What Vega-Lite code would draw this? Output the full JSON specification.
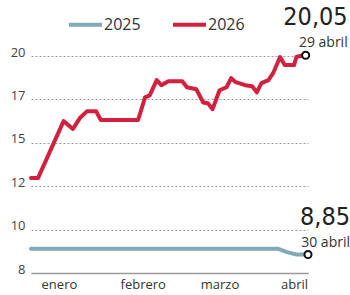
{
  "$schema": "https://vega.github.io/schema/vega-lite/v6.json",
  "autosize": "none",
  "width": 277,
  "height": 217,
  "padding": {"left": 31, "top": 56, "right": 42, "bottom": 22},
  "background": "white",
  "config": {"view": {"stroke": null}, "font": "Open Sans"},
  "datasets": {
    "s": [
      {"date": "2025/01/02", "serie": "2025", "value": 9.12},
      {"date": "2025/01/31", "serie": "2025", "value": 9.12},
      {"date": "2025/02/28", "serie": "2025", "value": 9.12},
      {"date": "2025/03/31", "serie": "2025", "value": 9.12},
      {"date": "2025/04/17", "serie": "2025", "value": 9.12},
      {"date": "2025/04/21", "serie": "2025", "value": 8.96},
      {"date": "2025/04/25", "serie": "2025", "value": 8.85},
      {"date": "2025/04/30", "serie": "2025", "value": 8.85},
      {"date": "2026/01/02", "serie": "2026", "value": 12.56},
      {"date": "2026/01/05", "serie": "2026", "value": 12.56},
      {"date": "2026/01/16", "serie": "2026", "value": 16.0},
      {"date": "2026/01/20", "serie": "2026", "value": 15.64},
      {"date": "2026/01/23", "serie": "2026", "value": 16.14},
      {"date": "2026/01/26", "serie": "2026", "value": 16.45},
      {"date": "2026/01/30", "serie": "2026", "value": 16.45},
      {"date": "2026/02/01", "serie": "2026", "value": 16.05},
      {"date": "2026/02/17", "serie": "2026", "value": 16.05},
      {"date": "2026/02/20", "serie": "2026", "value": 17.14},
      {"date": "2026/02/22", "serie": "2026", "value": 17.28},
      {"date": "2026/02/25", "serie": "2026", "value": 18.33},
      {"date": "2026/02/27", "serie": "2026", "value": 17.98},
      {"date": "2026/03/01", "serie": "2026", "value": 18.26},
      {"date": "2026/03/07", "serie": "2026", "value": 18.26},
      {"date": "2026/03/09", "serie": "2026", "value": 17.84},
      {"date": "2026/03/13", "serie": "2026", "value": 17.7},
      {"date": "2026/03/16", "serie": "2026", "value": 16.86},
      {"date": "2026/03/18", "serie": "2026", "value": 16.82},
      {"date": "2026/03/20", "serie": "2026", "value": 16.55},
      {"date": "2026/03/23", "serie": "2026", "value": 17.63},
      {"date": "2026/03/25", "serie": "2026", "value": 17.77},
      {"date": "2026/03/26", "serie": "2026", "value": 17.84},
      {"date": "2026/03/28", "serie": "2026", "value": 18.47},
      {"date": "2026/03/30", "serie": "2026", "value": 18.19},
      {"date": "2026/04/03", "serie": "2026", "value": 17.98},
      {"date": "2026/04/06", "serie": "2026", "value": 17.91},
      {"date": "2026/04/08", "serie": "2026", "value": 17.49},
      {"date": "2026/04/10", "serie": "2026", "value": 18.12},
      {"date": "2026/04/13", "serie": "2026", "value": 18.33},
      {"date": "2026/04/15", "serie": "2026", "value": 18.81},
      {"date": "2026/04/18", "serie": "2026", "value": 19.93},
      {"date": "2026/04/20", "serie": "2026", "value": 19.37},
      {"date": "2026/04/24", "serie": "2026", "value": 19.37},
      {"date": "2026/04/25", "serie": "2026", "value": 19.93},
      {"date": "2026/04/27", "serie": "2026", "value": 20.02},
      {"date": "2026/04/29", "serie": "2026", "value": 20.05}
    ],
    "ends": [
      {"date": "2026/04/29", "serie": "2026", "value": 20.05, "valueLabel": "20,05", "dateLabel": "29 abril"},
      {"date": "2025/04/30", "serie": "2025", "value": 8.85, "valueLabel": "8,85", "dateLabel": "30 abril"}
    ]
  },
  "encoding": {
    "x": {
      "field": "date",
      "type": "temporal",
      "timeUnit": "monthdate",
      "scale": {"domain": [{"year": 2012, "month": 1, "date": 2}, {"year": 2012, "month": 4, "date": 30}]},
      "axis": {
        "title": null,
        "values": [
          {"year": 2012, "month": 1, "date": 14},
          {"year": 2012, "month": 2, "date": 19},
          {"year": 2012, "month": 3, "date": 23},
          {"year": 2012, "month": 4, "date": 24}
        ],
        "labelExpr": "['enero','febrero','marzo','abril'][month(datum.value)]",
        "grid": false,
        "ticks": false,
        "domain": true,
        "domainColor": "#9a9a9a",
        "domainWidth": 1.5,
        "labelFontSize": 13,
        "labelColor": "#333333",
        "labelPadding": 5,
        "labelFont": "Open Sans"
      }
    },
    "y": {
      "field": "value",
      "type": "quantitative",
      "scale": {"domain": [8, 10, 12, 15, 17, 20], "range": [217, 173.6, 130.2, 86.8, 43.4, 0], "nice": false, "zero": false},
      "axis": {
        "title": null,
        "values": [8, 10, 12, 15, 17, 20],
        "grid": true,
        "gridDash": [2, 2],
        "gridColor": "#9a9a9a",
        "gridWidth": 1,
        "domain": false,
        "ticks": false,
        "labelFontSize": 13,
        "labelColor": "#444444",
        "labelPadding": 6,
        "labelBaseline": "alphabetic",
        "labelFont": "Open Sans"
      }
    }
  },
  "layer": [
    {
      "data": {"name": "s"},
      "mark": {"type": "line", "strokeWidth": 4, "strokeJoin": "round", "strokeCap": "round"},
      "encoding": {
        "color": {
          "field": "serie",
          "type": "nominal",
          "scale": {"domain": ["2025", "2026"], "range": ["#82a9b8", "#d2213f"]},
          "legend": {
            "title": null,
            "orient": "none",
            "legendX": 36,
            "legendY": -50,
            "direction": "horizontal",
            "symbolType": "stroke",
            "symbolSize": 1089,
            "symbolStrokeWidth": 4,
            "labelFontSize": 16,
            "labelColor": "#333333",
            "labelFont": "Open Sans",
            "labelOffset": 0,
            "columnPadding": 24,
            "padding": 0
          }
        }
      }
    },
    {
      "data": {"name": "ends"},
      "mark": {"type": "point", "filled": true, "fill": "white", "stroke": "#111111", "strokeWidth": 2, "size": 50, "opacity": 1}
    },
    {
      "data": {"name": "ends"},
      "mark": {"type": "text", "align": "right", "baseline": "alphabetic", "dx": 42, "dy": -30, "fontSize": 25, "font": "DejaVu Sans Condensed", "color": "#222222"},
      "encoding": {"text": {"field": "valueLabel"}}
    },
    {
      "data": {"name": "ends"},
      "mark": {"type": "text", "align": "right", "baseline": "alphabetic", "dx": 42, "dy": -8, "fontSize": 14, "font": "Open Sans", "color": "#333333"},
      "encoding": {"text": {"field": "dateLabel"}}
    }
  ]
}
